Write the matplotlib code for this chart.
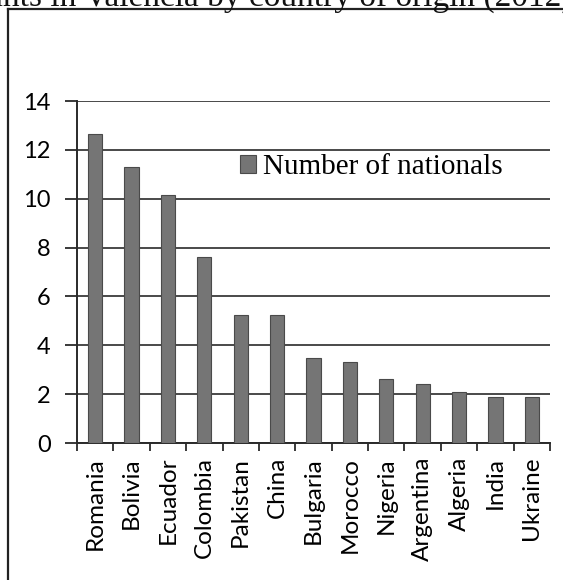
import matplotlib
matplotlib.use("Agg")
import matplotlib.pyplot as plt
from matplotlib.lines import Line2D

countries = ["Romania", "Bolivia", "Ecuador", "Colombia", "Pakistan", "China",
             "Bulgaria", "Morocco", "Nigeria", "Argentina", "Algeria", "India", "Ukraine"]
nationals = [12.65, 11.3, 10.15, 7.6, 5.25, 5.25, 3.5, 3.3, 2.6, 2.4, 2.1, 1.9, 1.9]
yticks = [0, 2, 4, 6, 8, 10, 12, 14]
series_label = "Number of nationals"
title_text = "Immigrants in Valencia by country of origin (2012)"

W, H = 563, 580
fig = plt.figure(figsize=(W / 100, H / 100), dpi=100)
fig.patch.set_facecolor("white")

def fx(px):
    return px / W

def fy(py):
    return 1 - py / H

ax = fig.add_axes([fx(77), fy(443), fx(550) - fx(77), fy(101) - fy(443)])
x = list(range(len(countries)))
ax.bar(x, nationals, width=0.39, color="#757575", edgecolor="#4a4a4a",
       linewidth=0.8, zorder=3, label=series_label)

ax.set_xlim(-0.5, len(countries) - 0.5)
ax.set_ylim(0, 14)
ax.set_yticks(yticks)
ax.set_yticklabels([str(v) for v in yticks], fontfamily="Lato", fontsize=17)
ax.yaxis.grid(True, color="#3a3a3a", linewidth=1.3, zorder=1)
ax.set_axisbelow(True)

# Category ticks sit between the bars
ax.set_xticks([i - 0.5 for i in range(len(countries) + 1)])
ax.set_xticklabels([])
ax.set_xticks(x, minor=True)
ax.set_xticklabels(countries, minor=True, rotation=90, fontfamily="Lato", fontsize=17.5,
                   va="top", ha="center")
ax.tick_params(axis="x", which="minor", length=0, pad=10)
ax.tick_params(axis="x", which="major", length=6, width=1.3, color="#2a2a2a")
ax.tick_params(axis="y", length=9, width=1.3, color="#2a2a2a", pad=10)

for side in ["top", "right"]:
    ax.spines[side].set_visible(False)
for side in ["left", "bottom"]:
    ax.spines[side].set_color("#2a2a2a")
    ax.spines[side].set_linewidth(1.4)

axw = fx(550) - fx(77)
ax.legend(loc="upper left", bbox_to_anchor=((fx(228) - fx(77)) / axw, 0.878),
          frameon=False, prop={"family": "Liberation Serif", "size": 21},
          handlelength=0.55, handleheight=0.55, handletextpad=0.25, borderaxespad=0)

# Frame lines of the surrounding box
fig.add_artist(Line2D([fx(8), fx(8)], [fy(9), 0], color="#222222", linewidth=1.6))
fig.add_artist(Line2D([fx(8), 1], [fy(9), fy(9)], color="#222222", linewidth=1.6))

# Caption running above the box, clipped by the top edge
fig.text(fx(572), fy(6), title_text, ha="right", va="baseline",
         fontfamily="Liberation Serif", fontsize=24, color="#111111")

fig.savefig("out.png", dpi=100)
